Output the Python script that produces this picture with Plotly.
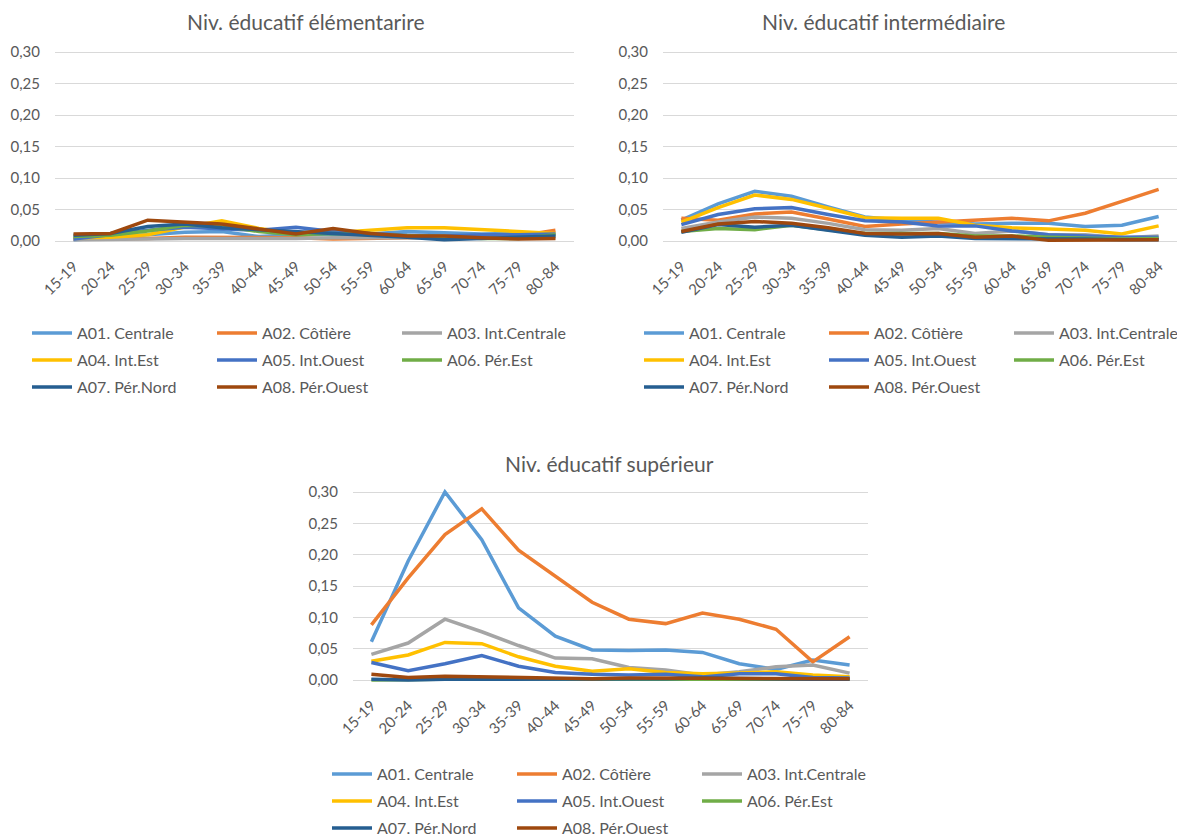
import plotly.graph_objects as go

ages = ["15-19", "20-24", "25-29", "30-34", "35-39", "40-44", "45-49",
        "50-54", "55-59", "60-64", "65-69", "70-74", "75-79", "80-84"]

series_names = ["A01. Centrale", "A02. Côtière", "A03. Int.Centrale", "A04. Int.Est",
                "A05. Int.Ouest", "A06. Pér.Est", "A07. Pér.Nord", "A08. Pér.Ouest"]
series_colors = ["#5B9BD5", "#ED7D31", "#A5A5A5", "#FFC000",
                 "#4472C4", "#70AD47", "#255E91", "#9E480E"]

chart_titles = ["Niv. éducatif élémentarire", "Niv. éducatif intermédiaire", "Niv. éducatif supérieur"]

# Niv. éducatif élémentaire
elem_A01 = [0.002, 0.005, 0.010, 0.014, 0.015, 0.007, 0.010, 0.010, 0.011, 0.015, 0.013, 0.011, 0.012, 0.011]
elem_A02 = [0.003, 0.003, 0.004, 0.006, 0.006, 0.005, 0.005, 0.003, 0.004, 0.005, 0.005, 0.007, 0.008, 0.017]
elem_A03 = [0.002, 0.002, 0.003, 0.004, 0.004, 0.003, 0.004, 0.005, 0.005, 0.004, 0.004, 0.004, 0.004, 0.005]
elem_A04 = [0.005, 0.006, 0.010, 0.022, 0.032, 0.020, 0.012, 0.013, 0.017, 0.021, 0.021, 0.018, 0.016, 0.012]
elem_A05 = [0.003, 0.010, 0.017, 0.022, 0.019, 0.017, 0.022, 0.015, 0.012, 0.009, 0.008, 0.010, 0.010, 0.011]
elem_A06 = [0.007, 0.009, 0.016, 0.025, 0.024, 0.015, 0.010, 0.012, 0.010, 0.009, 0.007, 0.004, 0.004, 0.010]
elem_A07 = [0.009, 0.012, 0.023, 0.027, 0.021, 0.018, 0.015, 0.013, 0.010, 0.006, 0.002, 0.004, 0.006, 0.008]
elem_A08 = [0.011, 0.012, 0.033, 0.030, 0.027, 0.019, 0.011, 0.020, 0.012, 0.008, 0.008, 0.005, 0.003, 0.004]

# Niv. éducatif intermédiaire
inter_A01 = [0.033, 0.059, 0.079, 0.071, 0.054, 0.038, 0.033, 0.030, 0.027, 0.028, 0.028, 0.023, 0.025, 0.039]
inter_A02 = [0.036, 0.033, 0.043, 0.046, 0.035, 0.023, 0.027, 0.030, 0.034, 0.036, 0.032, 0.044, 0.063, 0.082]
inter_A03 = [0.020, 0.030, 0.038, 0.036, 0.028, 0.018, 0.017, 0.020, 0.012, 0.016, 0.010, 0.010, 0.005, 0.008]
inter_A04 = [0.030, 0.053, 0.073, 0.066, 0.052, 0.037, 0.036, 0.036, 0.025, 0.021, 0.019, 0.017, 0.011, 0.024]
inter_A05 = [0.026, 0.042, 0.051, 0.053, 0.042, 0.032, 0.030, 0.024, 0.024, 0.016, 0.010, 0.008, 0.006, 0.006]
inter_A06 = [0.015, 0.020, 0.018, 0.025, 0.018, 0.012, 0.012, 0.012, 0.008, 0.008, 0.006, 0.005, 0.003, 0.004]
inter_A07 = [0.014, 0.026, 0.022, 0.025, 0.017, 0.009, 0.006, 0.008, 0.004, 0.004, 0.003, 0.003, 0.002, 0.002]
inter_A08 = [0.015, 0.027, 0.031, 0.028, 0.021, 0.012, 0.011, 0.012, 0.006, 0.008, 0.001, 0.001, 0.001, 0.002]

# Niv. éducatif supérieur
sup_A01 = [0.061, 0.190, 0.300, 0.224, 0.115, 0.070, 0.048, 0.047, 0.048, 0.044, 0.026, 0.017, 0.032, 0.024]
sup_A02 = [0.088, 0.163, 0.232, 0.273, 0.207, 0.165, 0.124, 0.097, 0.090, 0.107, 0.097, 0.081, 0.029, 0.069]
sup_A03 = [0.041, 0.059, 0.097, 0.077, 0.055, 0.035, 0.034, 0.020, 0.016, 0.008, 0.013, 0.021, 0.024, 0.011]
sup_A04 = [0.030, 0.040, 0.060, 0.058, 0.037, 0.022, 0.014, 0.018, 0.012, 0.010, 0.011, 0.013, 0.008, 0.005]
sup_A05 = [0.028, 0.015, 0.026, 0.039, 0.022, 0.012, 0.009, 0.008, 0.009, 0.005, 0.010, 0.010, 0.004, 0.003]
sup_A06 = [0.000, 0.001, 0.001, 0.002, 0.002, 0.001, 0.001, 0.001, 0.001, 0.001, 0.001, 0.002, 0.001, 0.001]
sup_A07 = [0.001, 0.000, 0.001, 0.001, 0.002, 0.001, 0.002, 0.002, 0.002, 0.003, 0.002, 0.002, 0.001, 0.001]
sup_A08 = [0.009, 0.004, 0.006, 0.005, 0.003, 0.002, 0.002, 0.003, 0.003, 0.002, 0.002, 0.002, 0.002, 0.002]

y_ticks = [0.00, 0.05, 0.10, 0.15, 0.20, 0.25, 0.30]

charts = [
    [elem_A01, elem_A02, elem_A03, elem_A04, elem_A05, elem_A06, elem_A07, elem_A08],
    [inter_A01, inter_A02, inter_A03, inter_A04, inter_A05, inter_A06, inter_A07, inter_A08],
    [sup_A01, sup_A02, sup_A03, sup_A04, sup_A05, sup_A06, sup_A07, sup_A08],
]

W, H = 1177, 839
FONT = "Lato, 'Open Sans', sans-serif"
GREY = "#595959"
GRID = "#D9D9D9"

# plot areas in pixels: (left, right, y of 0.00, y of 0.30)
areas = [(55, 574, 241, 52), (663, 1177, 241, 52), (353, 868, 680, 492)]
title_pos = [(306, 22), (883, 22), (609, 463)]
legend_text_x = [(78, 263, 447), (690, 875, 1060), (378, 562, 745)]
legend_rows_y = [(333, 360, 387), (333, 360, 387), (774, 801, 828)]

PAD = 0.006
fig = go.Figure()
layout = dict(width=W, height=H, margin=dict(l=0, r=0, t=0, b=0, autoexpand=False),
              paper_bgcolor="white", plot_bgcolor="white", separators=", ",
              font=dict(family=FONT, color=GREY, size=15), annotations=[])

for k, data in enumerate(charts):
    left, right, p0, p30 = areas[k]
    ppu = (p0 - p30) / 0.30
    ydom = [1 - (p0 + PAD * ppu) / H, 1 - (p30 - PAD * ppu) / H]
    xdom = [left / W, min(right / W, 1.0)]
    sfx = "" if k == 0 else str(k + 1)
    layout["xaxis" + sfx] = dict(domain=xdom, anchor="y" + sfx, type="category",
                                 range=[-0.5, len(ages) - 0.5], tickangle=-45,
                                 showgrid=False, showline=False, zeroline=False,
                                 ticks="outside", ticklen=6, tickcolor="rgba(0,0,0,0)",
                                 automargin=False,
                                 tickfont=dict(family=FONT, size=15, color=GREY))
    layout["yaxis" + sfx] = dict(domain=ydom, anchor="x" + sfx, range=[-PAD, 0.30 + PAD],
                                 tickvals=y_ticks, tickformat=".2f", showgrid=True,
                                 gridcolor=GRID, gridwidth=1, zeroline=False, showline=False,
                                 ticks="", ticklabelstandoff=14, automargin=False,
                                 tickfont=dict(family=FONT, size=15, color=GREY))
    for s, vals in enumerate(data):
        r = s // 3
        lid = k * 3 + r + 1
        lname = "legend" if lid == 1 else "legend%d" % lid
        fig.add_trace(go.Scatter(x=ages, y=vals, mode="lines", name=series_names[s],
                                 line=dict(color=series_colors[s], width=3.5),
                                 xaxis="x" + sfx, yaxis="y" + sfx, legend=lname))
    for r in range(3):
        lid = k * 3 + r + 1
        lname = "legend" if lid == 1 else "legend%d" % lid
        layout[lname] = dict(orientation="h", x=(legend_text_x[k][0] - 51) / W, xanchor="left",
                             y=1 - legend_rows_y[k][r] / H, yanchor="middle",
                             itemwidth=40, entrywidth=130, entrywidthmode="pixels",
                             bgcolor="rgba(0,0,0,0)", font=dict(family=FONT, size=16, color=GREY),
                             itemclick=False, itemdoubleclick=False)
    tx, ty = title_pos[k]
    layout["annotations"].append(dict(text=chart_titles[k], x=tx / W, y=1 - ty / H,
                                      xref="paper", yref="paper", showarrow=False,
                                      xanchor="center", yanchor="middle",
                                      font=dict(family=FONT, size=21, color=GREY)))

fig.update_layout(**layout)
fig.write_html("out.html", config={"displayModeBar": False},
               post_script="document.body.style.margin='0';document.body.style.overflow='hidden';")
